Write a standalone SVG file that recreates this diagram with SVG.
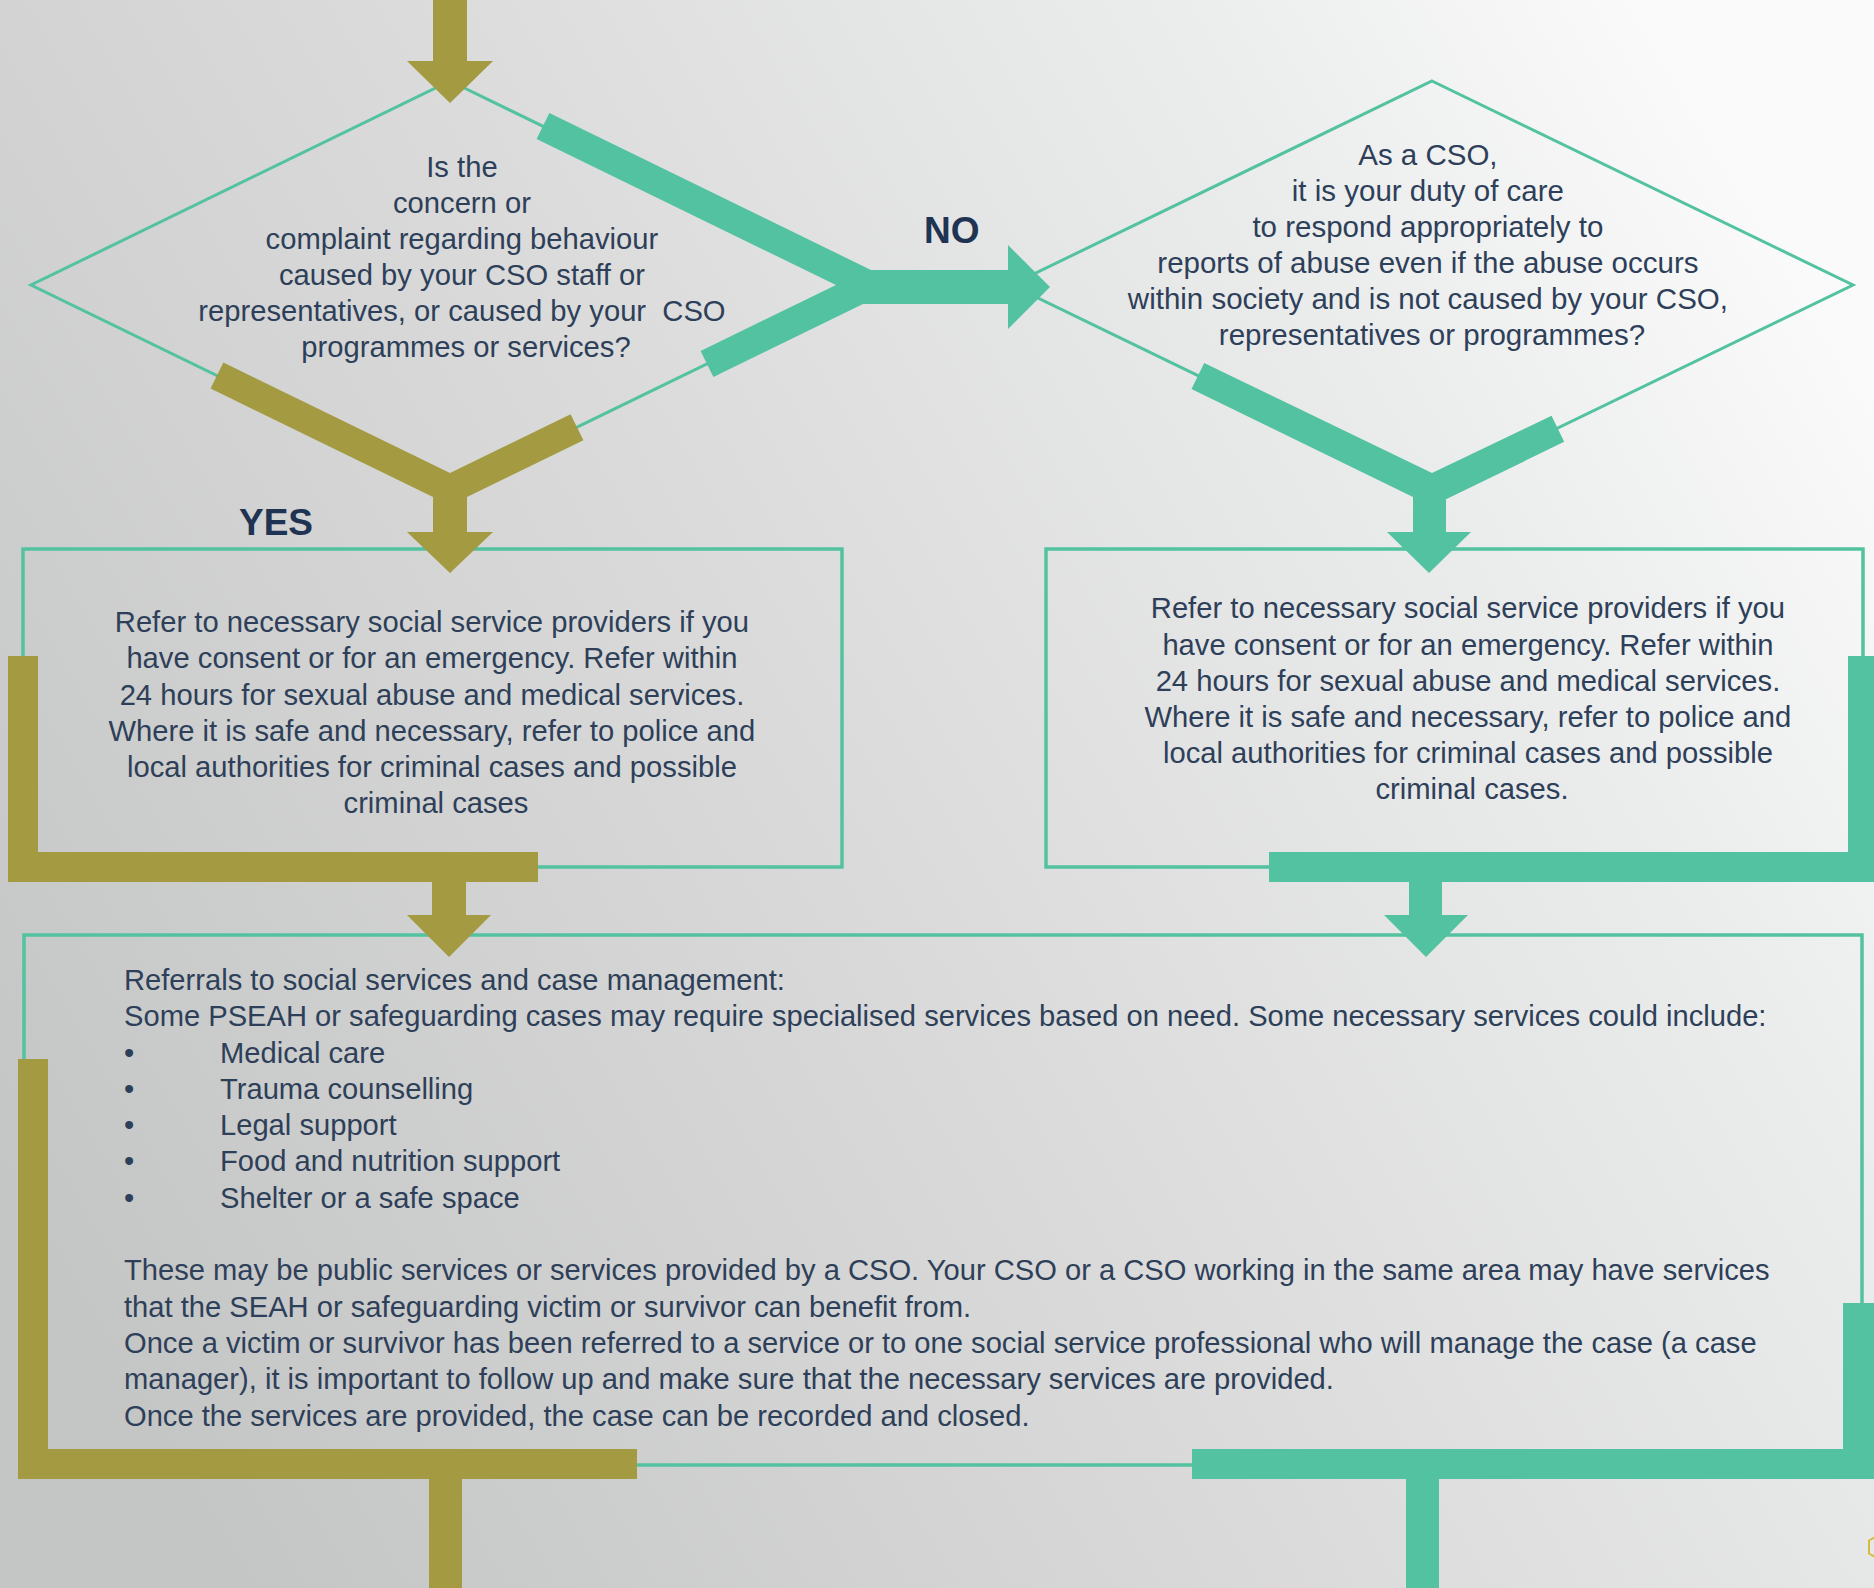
<svg xmlns="http://www.w3.org/2000/svg" width="1874" height="1588" viewBox="0 0 1874 1588">
  <defs>
    <linearGradient id="bg" x1="0" y1="0.75" x2="1" y2="0.25">
      <stop offset="0" stop-color="#c4c5c5"/>
      <stop offset="0.45" stop-color="#d9dad9"/>
      <stop offset="0.8" stop-color="#ebecec"/>
      <stop offset="1" stop-color="#fafafa"/>
    </linearGradient>
    <style>
      .outline { fill: none; stroke: #52c2a0; stroke-width: 3; }
      .box { fill: none; stroke: #52c2a0; stroke-width: 3.5; }
      .teal { fill: #52c2a0; }
      .olive { fill: #a39a41; }
      .t { font-family: "Liberation Sans", Arial, sans-serif; font-size: 29.2px; fill: #2e3f59; }
      .c { text-anchor: middle; }
      .lbl { font-family: "Liberation Sans", Arial, sans-serif; font-size: 37px; font-weight: bold; fill: #1f3352; }
    </style>
  </defs>

  <rect x="0" y="0" width="1874" height="1588" fill="url(#bg)"/>

  <!-- nodes -->
  <g id="diamond1">
    <polygon class="outline" points="450,81 869,285 450,489 31,285"/>
    <text class="t c">
      <tspan x="466" y="177">Is the</tspan>
      <tspan x="466" y="213">concern or</tspan>
      <tspan x="466" y="249">complaint regarding behaviour</tspan>
      <tspan x="466" y="285">caused by your CSO staff or</tspan>
      <tspan x="466" y="321" xml:space="preserve">representatives, or caused by your  CSO</tspan>
      <tspan x="466" y="357">programmes or services?</tspan>
    </text>
  </g>

  <g id="diamond2">
    <polygon class="outline" points="1432,81 1853,285 1432,489 1011,285"/>
    <text class="t c" style="font-size:29.5px">
      <tspan x="1432" y="165">As a CSO,</tspan>
      <tspan x="1432" y="201">it is your duty of care</tspan>
      <tspan x="1432" y="237">to respond appropriately to</tspan>
      <tspan x="1432" y="273">reports of abuse even if the abuse occurs</tspan>
      <tspan x="1432" y="309">within society and is not caused by your CSO,</tspan>
      <tspan x="1432" y="345">representatives or programmes?</tspan>
    </text>
  </g>

  <g id="box1">
    <rect class="box" x="23" y="549" width="819" height="318"/>
    <text class="t c">
      <tspan x="436" y="632">Refer to necessary social service providers if you</tspan>
      <tspan x="436" y="668">have consent or for an emergency. Refer within</tspan>
      <tspan x="436" y="705">24 hours for sexual abuse and medical services.</tspan>
      <tspan x="436" y="741">Where it is safe and necessary, refer to police and</tspan>
      <tspan x="436" y="777">local authorities for criminal cases and possible</tspan>
      <tspan x="436" y="813">criminal cases</tspan>
    </text>
  </g>

  <g id="box2">
    <rect class="box" x="1046" y="549" width="817" height="318"/>
    <text class="t c">
      <tspan x="1472" y="618">Refer to necessary social service providers if you</tspan>
      <tspan x="1472" y="655">have consent or for an emergency. Refer within</tspan>
      <tspan x="1472" y="691">24 hours for sexual abuse and medical services.</tspan>
      <tspan x="1472" y="727">Where it is safe and necessary, refer to police and</tspan>
      <tspan x="1472" y="763">local authorities for criminal cases and possible</tspan>
      <tspan x="1472" y="799">criminal cases.</tspan>
    </text>
  </g>

  <g id="box3">
    <rect class="box" x="24" y="935" width="1838" height="530"/>
    <text class="t" style="font-size:29.15px">
      <tspan x="124" y="990">Referrals to social services and case management:</tspan>
      <tspan x="124" y="1026">Some PSEAH or safeguarding cases may require specialised services based on need. Some necessary services could include:</tspan>
      <tspan x="124" y="1063">•</tspan><tspan x="220" y="1063">Medical care</tspan>
      <tspan x="124" y="1099">•</tspan><tspan x="220" y="1099">Trauma counselling</tspan>
      <tspan x="124" y="1135">•</tspan><tspan x="220" y="1135">Legal support</tspan>
      <tspan x="124" y="1171">•</tspan><tspan x="220" y="1171">Food and nutrition support</tspan>
      <tspan x="124" y="1208">•</tspan><tspan x="220" y="1208">Shelter or a safe space</tspan>
      <tspan x="124" y="1280">These may be public services or services provided by a CSO. Your CSO or a CSO working in the same area may have services</tspan>
      <tspan x="124" y="1317">that the SEAH or safeguarding victim or survivor can benefit from.</tspan>
      <tspan x="124" y="1353">Once a victim or survivor has been referred to a service or to one social service professional who will manage the case (a case</tspan>
      <tspan x="124" y="1389">manager), it is important to follow up and make sure that the necessary services are provided.</tspan>
      <tspan x="124" y="1426">Once the services are provided, the case can be recorded and closed.</tspan>
    </text>
  </g>

  <!-- connectors -->
  <g id="connectors">
    <!-- entry arrow -->
    <polygon class="olive" points="433,-2 467,-2 467,61 493,61 450,103 407,61 433,61"/>
    <!-- NO branch from diamond 1 -->
    <polygon class="teal" points="549.4,113 871,270 1008,270 1008,245 1050,287 1008,329 1008,304 863,304 713.4,377 700.6,351 836,285 536.6,139"/>
    <!-- YES branch from diamond 1 -->
    <polygon class="olive" points="210.6,388.6 433,496.9 433,532 407,532 450,573 493,532 467,532 467,496.9 583.4,440.2 570.6,414.2 450,472.9 223.4,362.6"/>
    <!-- out of diamond 2 -->
    <polygon class="teal" points="1191.5,389 1413,496.9 1413,532 1387,532 1429,573 1471,532 1446,532 1446,499.3 1564.2,441.8 1551.5,415.8 1432,472.9 1204.2,363"/>
    <!-- box1 to box3 -->
    <polygon class="olive" points="8,656 38,656 38,852 538,852 538,882 466,882 466,915 491,915 449,957 407,915 432,915 432,882 8,882"/>
    <!-- box2 to box3 -->
    <polygon class="teal" points="1848,656 1876,656 1876,882 1442,882 1442,915 1468,915 1426,957 1384,915 1409,915 1409,882 1269,882 1269,852 1848,852"/>
    <!-- out of box3 -->
    <polygon class="olive" points="18,1059 48,1059 48,1449 637,1449 637,1479 462,1479 462,1590 429,1590 429,1479 18,1479"/>
    <polygon class="teal" points="1843,1303 1876,1303 1876,1479 1439,1479 1439,1590 1406,1590 1406,1479 1192,1479 1192,1449 1843,1449"/>
    <text class="lbl" x="239" y="535">YES</text>
    <text class="lbl" x="924" y="243">NO</text>
  </g>

  <polygon points="1880,1534 1891,1540.5 1891,1553.5 1880,1560 1869,1553.5 1869,1540.5" fill="none" stroke="#d6bc3e" stroke-width="2"/>
</svg>
